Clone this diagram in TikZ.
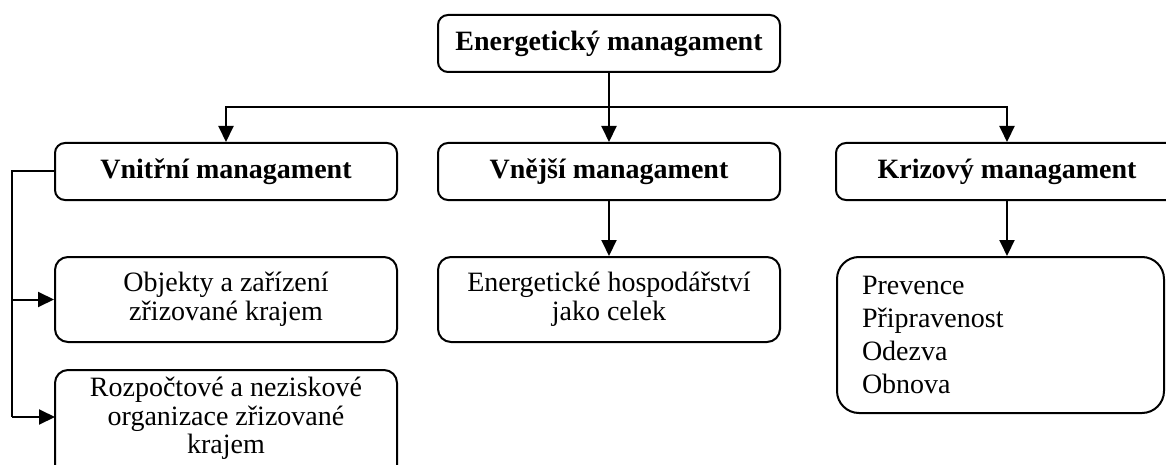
\documentclass[tikz,border=0pt]{standalone}
\usepackage{fontspec}
\setmainfont{Liberation Serif}
\usetikzlibrary{arrows.meta}
\begin{document}
\begin{tikzpicture}[x=1pt,y=-1pt,
  basebox/.style={draw, line width=2pt, inner sep=0pt, align=center,
    minimum width=342pt},
  headbox/.style={basebox, rounded corners=10pt, minimum height=57pt,
    font=\fontsize{28pt}{29pt}\selectfont\bfseries},
  textbox/.style={basebox, rounded corners=13pt, minimum height=85pt,
    font=\fontsize{28pt}{29pt}\selectfont},
  plainlabel/.style={inner sep=0pt, align=center,
    font=\fontsize{28pt}{28.5pt}\selectfont},
  conn/.style={line width=2pt},
  arr/.style={conn, -{Triangle[length=16pt,width=15pt]}}]
\useasboundingbox (0,0) rectangle (1166,465);
\clip (0,0) rectangle (1166,465);

\node[headbox] (top) at (609,43.5) {Energetický managament};
\node[headbox] (vni) at (226,171.5) {Vnitřní managament};
\node[headbox] (vne) at (609,171.5) {Vnější managament};
\node[headbox] (kri) at (1007,171.5) {Krizový managament};

\node[textbox] (obj) at (226,299.5) {Objekty a zařízení\\zřizované krajem};
\node[textbox] (ene) at (609,299.5) {Energetické hospodářství\\jako celek};
\node[basebox, rounded corners=13pt, minimum height=120pt] (roz) at (226,430) {};
\node[plainlabel, anchor=north] (rozt) at (226,377) {Rozpočtové a neziskové\\organizace zřizované\\krajem};

\node[draw, line width=2pt, rounded corners=22pt, inner xsep=25pt, inner ysep=0pt,
  minimum height=156pt, text width=277pt, align=left,
  font=\fontsize{28pt}{33pt}\selectfont] (lst) at (1000.5,335)
  {Prevence\\Připravenost\\Odezva\\Obnova};

\coordinate (hub) at (609,107);
\coordinate (lx) at (12,0);
\coordinate (rozin) at (55,417);

\draw[conn] (top.south) -- (hub);
\draw[arr] (hub) -| (vni.north);
\draw[arr] (hub) -- (vne.north);
\draw[arr] (hub) -| (kri.north);
\draw[arr] (vne.south) -- (ene.north);
\draw[arr] (kri.south) -- (kri.south |- lst.north);
\draw[conn] (vni.west) -- (vni.west -| lx) -- (lx |- rozin);
\draw[arr] (lx |- obj.west) -- (obj.west);
\draw[arr] (lx |- rozin) -- (rozin);
\end{tikzpicture}
\end{document}
